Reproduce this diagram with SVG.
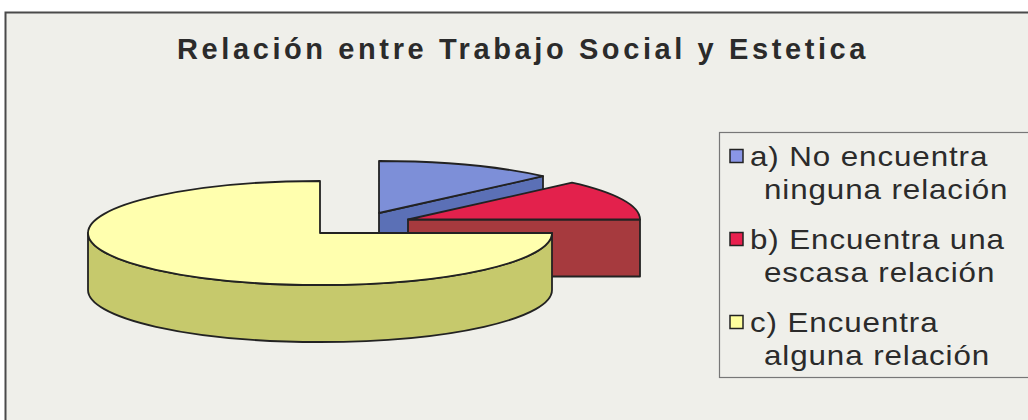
<svg xmlns="http://www.w3.org/2000/svg" width="1028" height="420" viewBox="0 0 1028 420">
<style>
.edge{stroke:#222;stroke-width:1.8;stroke-linejoin:round}
.lg{font-family:"Liberation Sans",Arial,sans-serif;font-size:28px;letter-spacing:0.8px;fill:#2b2b2b}
.sw{stroke:#222;stroke-width:1.5}
</style>
<rect x="0" y="0" width="1028" height="420" fill="#ffffff"/>
<rect id="frame" x="5.5" y="12.5" width="1040" height="420" fill="#efefea" stroke="#4a4a4a" stroke-width="2"/>
<g id="title">
<text x="177" y="59" font-family="'Liberation Sans',Arial,sans-serif" font-size="29" font-weight="bold" letter-spacing="3.6" fill="#2b2b2b">Relación entre Trabajo Social y Estetica</text>
</g>
<g id="pie">
<g id="slice-a">
<path class="edge" d="M379,213 L543,176.2 L543,233.2 L379,270 Z" fill="#5b70b6"/>
<path class="edge" d="M379,213 L379,161 A232,52 0 0 1 543,176.2 Z" fill="#7d8fd8"/>
</g>
<g id="slice-b">
<path class="edge" d="M408,219.5 L640,219.5 L640,276.5 L408,276.5 Z" fill="#a63a3e"/>
<path class="edge" d="M408,219.5 L572,182.7 A232,52 0 0 1 640,219.5 Z" fill="#e3214c"/>
</g>
<g id="slice-c">
<path class="edge" d="M552,233 A232,52 0 0 1 88,233 L88,290 A232,52 0 0 0 552,290 Z" fill="#c6c96c"/>
<path class="edge" d="M320,233 L552,233 A232,52 0 1 1 320,181 Z" fill="#ffffae"/>
</g>
</g>
<g id="legend">
<rect x="719.5" y="132.5" width="330" height="245" fill="#efefea" stroke="#777" stroke-width="1.2"/>
<g id="legend-a">
<rect class="sw" x="730" y="149.5" width="13" height="13" fill="#8a96e6"/>
<text class="lg" transform="translate(750,166) scale(1.12,1)">a) No encuentra</text>
<text class="lg" transform="translate(764,199) scale(1.12,1)">ninguna relación</text>
</g>
<g id="legend-b">
<rect class="sw" x="730" y="232.5" width="13" height="13" fill="#e8204e"/>
<text class="lg" transform="translate(750,249) scale(1.12,1)">b) Encuentra una</text>
<text class="lg" transform="translate(764,282) scale(1.12,1)">escasa relación</text>
</g>
<g id="legend-c">
<rect class="sw" x="730" y="315.5" width="13" height="13" fill="#ffff9e"/>
<text class="lg" transform="translate(750,332) scale(1.12,1)">c) Encuentra</text>
<text class="lg" transform="translate(764,365) scale(1.12,1)">alguna relación</text>
</g>
</g>
</svg>
